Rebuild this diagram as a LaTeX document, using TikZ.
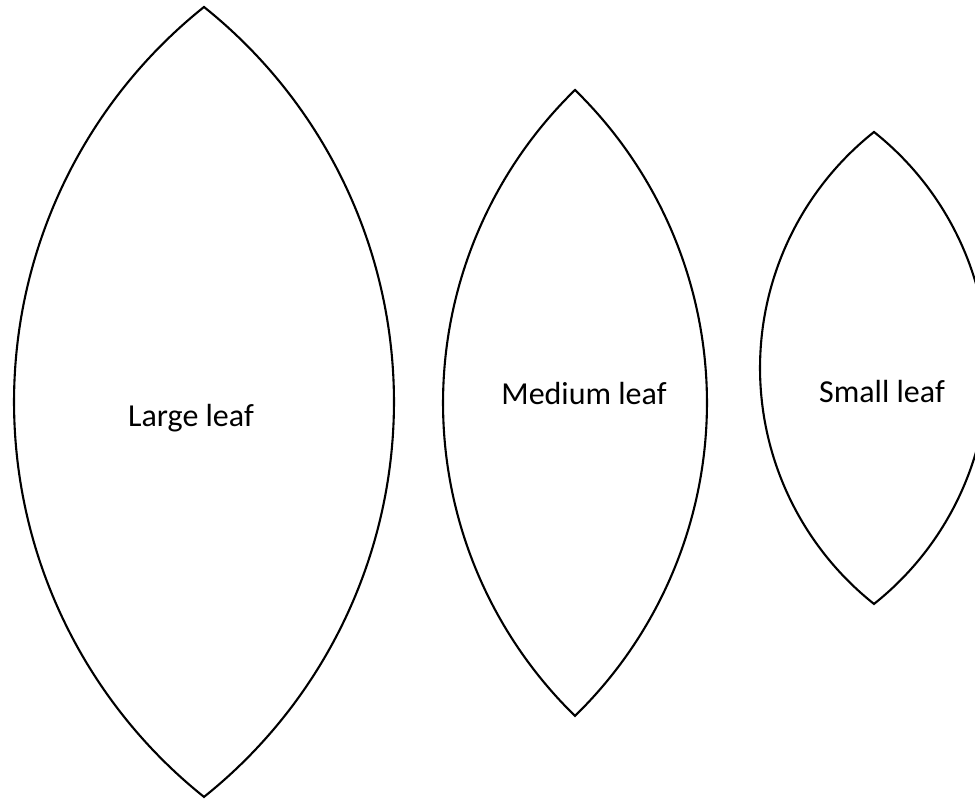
\documentclass[tikz,border=0pt]{standalone}
\usepackage{fontspec}
\setmainfont{Carlito}
\newcommand{\leafshape}[4]{% cx, cy, w, h
  \pgfmathsetmacro{\lR}{100*(((#4)/100)^2+((#3)/100)^2)/(2*(#3)/100)}%
  \pgfmathsetmacro{\lA}{atan((#4)/(\lR-(#3)))}%
  \pgfmathsetmacro{\lS}{180-\lA}%
  \pgfmathsetmacro{\lE}{180+\lA}%
  \draw[leafline] (#1,#2+#4) arc[start angle=\lS, end angle=\lE, radius=\lR]
     arc[start angle=-\lA, end angle=\lA, radius=\lR] -- cycle;%
}
\begin{document}
\begin{tikzpicture}[x=1pt,y=1pt,
  leafline/.style={line width=2.1pt, black, line join=miter},
  leaflabel/.style={anchor=base, inner sep=0pt, font=\fontsize{32}{38}\selectfont}]
\clip (0,0) rectangle (975,799);
\fill[white] (0,0) rectangle (975,799);
\leafshape{204}{397}{190}{395}
\leafshape{575}{396}{132}{313}
\leafshape{874}{431}{114}{236}
\node[leaflabel] (large) at (191,372) {Large leaf};
\node[leaflabel] (medium) at (584,394) {Medium leaf};
\node[leaflabel] (small) at (882,396) {Small leaf};
\end{tikzpicture}
\end{document}
